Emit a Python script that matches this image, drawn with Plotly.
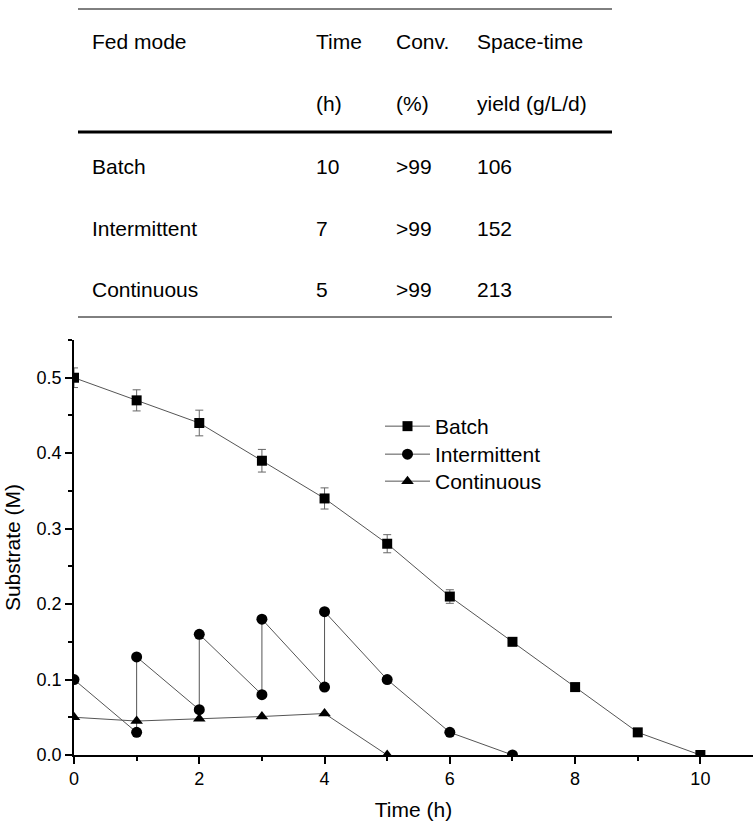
import plotly.graph_objects as go

# ---------------- data ----------------
batch_t = [0, 1, 2, 3, 4, 5, 6, 7, 8, 9, 10]
batch_s = [0.50, 0.47, 0.44, 0.39, 0.34, 0.28, 0.21, 0.15, 0.09, 0.03, 0.0]
batch_err = [0.013, 0.014, 0.017, 0.015, 0.014, 0.012, 0.009, 0.0, 0.0, 0.0, 0.0]

inter_t = [0, 1, 1, 2, 2, 3, 3, 4, 4, 5, 6, 7]
inter_s = [0.10, 0.03, 0.13, 0.06, 0.16, 0.08, 0.18, 0.09, 0.19, 0.10, 0.03, 0.0]

cont_t = [0, 1, 2, 3, 4, 5]
cont_s = [0.050, 0.045, 0.048, 0.051, 0.055, 0.0]

table_header1 = ["Fed mode", "Time", "Conv.", "Space-time"]
table_header2 = ["", "(h)", "(%)", "yield (g/L/d)"]
table_rows = [
    ["Batch", "10", ">99", "106"],
    ["Intermittent", "7", ">99", "152"],
    ["Continuous", "5", ">99", "213"],
]

# ---------------- layout helpers ----------------
W, H = 755, 824
FONT = "Liberation Sans, Arial, sans-serif"


def px(x):
    return x / W


def py(y):
    return 1 - y / H


fig = go.Figure()

line_col = "#555555"
fig.add_trace(go.Scatter(
    x=batch_t, y=batch_s, name="Batch", mode="lines+markers",
    line=dict(color=line_col, width=1),
    marker=dict(symbol="square", size=10, color="black"),
    error_y=dict(type="data", array=batch_err, visible=True,
                 color="#666666", thickness=1, width=4),
    legend="legend",
))
fig.add_trace(go.Scatter(
    x=inter_t, y=inter_s, name="Intermittent", mode="lines+markers",
    line=dict(color=line_col, width=1),
    marker=dict(symbol="circle", size=11, color="black"),
    legend="legend2",
))
fig.add_trace(go.Scatter(
    x=cont_t, y=cont_s, name="Continuous", mode="lines+markers",
    line=dict(color=line_col, width=1),
    marker=dict(symbol="triangle-up", size=11, color="black"),
    legend="legend3",
))

# ---------------- table ----------------
shapes = []
for y, w in [(9, 1), (132, 3), (317, 1)]:
    shapes.append(dict(type="line", xref="paper", yref="paper",
                       x0=px(78), x1=px(612), y0=py(y), y1=py(y),
                       line=dict(color="black", width=w)))

col_x = [90, 314, 394, 475]
annotations = []


def add_row(cells, y):
    for c, x in zip(cells, col_x):
        if c:
            annotations.append(dict(
                text=c, x=px(x), y=py(y), xref="paper", yref="paper",
                xanchor="left", yanchor="middle", showarrow=False,
                font=dict(family=FONT, size=21, color="black")))


add_row(table_header1, 42)
add_row(table_header2, 104)
for i, r in enumerate(table_rows):
    add_row(r, 166 + 62 * i)


def leg(top):
    return dict(x=px(380), y=py(top), xanchor="left", yanchor="top",
                font=dict(family=FONT, size=21, color="black"),
                bgcolor="rgba(0,0,0,0)", itemwidth=45)


fig.update_layout(
    width=W, height=H,
    margin=dict(l=0, r=0, t=0, b=0),
    paper_bgcolor="white", plot_bgcolor="white",
    font=dict(family=FONT, color="black"),
    shapes=shapes, annotations=annotations,
    showlegend=True,
    legend=leg(406), legend2=leg(434), legend3=leg(461),
    xaxis=dict(
        domain=[px(74), px(753)], range=[0, 10.84],
        showgrid=False, zeroline=False, showline=True,
        linecolor="black", linewidth=1.5, mirror=False,
        ticks="outside", ticklen=7, tickwidth=1.5, tickcolor="black",
        tick0=0, dtick=2, tickfont=dict(size=18, family=FONT),
        minor=dict(dtick=1, ticks="outside", ticklen=4, tickwidth=1.5,
                   tickcolor="black", showgrid=False),
        title=dict(text="Time (h)", font=dict(size=21, family=FONT),
                   standoff=14),
        automargin=False, anchor="y",
    ),
    yaxis=dict(
        domain=[py(755), py(340)], range=[0, 0.55],
        showgrid=False, zeroline=False, showline=True,
        linecolor="black", linewidth=1.5,
        ticks="outside", ticklen=7, tickwidth=1.5, tickcolor="black",
        tick0=0, dtick=0.1, tickformat=".1f",
        tickfont=dict(size=18, family=FONT),
        minor=dict(dtick=0.05, ticks="outside", ticklen=4, tickwidth=1.5,
                   tickcolor="black", showgrid=False),
        title=dict(text="Substrate (M)", font=dict(size=21, family=FONT),
                   standoff=10),
        automargin=False, anchor="x",
    ),
)

fig.write_html("out.html", config={"displayModeBar": False},
               post_script="document.body.style.margin='0';")
